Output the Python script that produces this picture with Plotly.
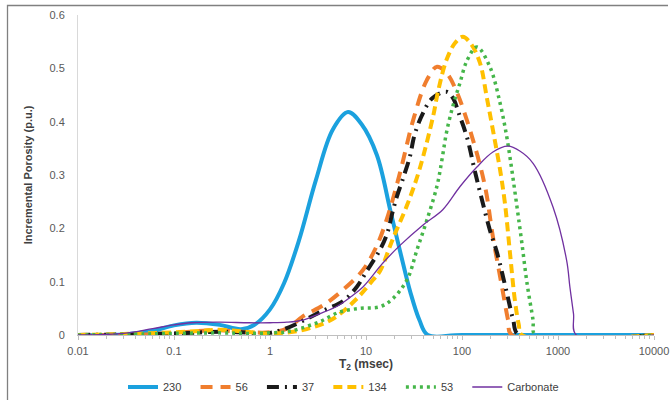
import plotly.graph_objects as go

# ---- data ----
t2_230 = [0.01, 0.03, 0.06, 0.1, 0.17, 0.3, 0.5, 0.7, 1.0, 1.4, 2.0, 3.0, 4.5, 6.5, 9.0, 13, 18, 23, 29, 36, 44, 100, 10000]
v_230 = [0, 0.001, 0.008, 0.018, 0.023, 0.019, 0.011, 0.02, 0.048, 0.097, 0.177, 0.29, 0.385, 0.418, 0.395, 0.337, 0.232, 0.152, 0.08, 0.028, 0, 0, 0]

t2_56 = [0.01, 0.05, 0.1, 0.2, 0.3, 0.5, 1.0, 1.5, 2.2, 3.6, 5.8, 9.3, 13, 17, 22.6, 31, 43, 55, 70, 89, 130, 174, 210, 261, 302, 330, 10000]
v_56 = [0, 0.001, 0.004, 0.008, 0.009, 0.006, 0.005, 0.012, 0.035, 0.056, 0.085, 0.122, 0.168, 0.225, 0.304, 0.403, 0.478, 0.503, 0.49, 0.454, 0.366, 0.278, 0.184, 0.09, 0.028, 0, 0]

t2_37 = [0.01, 0.1, 0.3, 0.5, 1.0, 1.5, 2.4, 3.5, 5.8, 8.0, 10.2, 14, 16.6, 19, 21, 25, 28.7, 32, 39, 49, 69, 80, 95, 113, 135, 154, 195, 232, 293, 340, 390, 10000]
v_37 = [0, 0.003, 0.006, 0.005, 0.004, 0.013, 0.03, 0.045, 0.064, 0.09, 0.12, 0.16, 0.19, 0.232, 0.26, 0.30, 0.335, 0.375, 0.415, 0.444, 0.456, 0.445, 0.41, 0.37, 0.31, 0.268, 0.197, 0.154, 0.079, 0.03, 0, 0]

t2_134 = [0.01, 0.03, 0.1, 0.2, 0.3, 0.5, 1.0, 1.6, 2.6, 4.5, 8, 11.8, 14, 19, 27, 36, 50, 56, 69, 85, 102, 125, 154, 181, 210, 249, 280, 316, 355, 390, 420, 10000]
v_134 = [0, 0.002, 0.005, 0.008, 0.01, 0.007, 0.003, 0.005, 0.013, 0.03, 0.068, 0.103, 0.12, 0.18, 0.245, 0.31, 0.41, 0.455, 0.516, 0.548, 0.559, 0.545, 0.51, 0.446, 0.384, 0.31, 0.247, 0.154, 0.066, 0.02, 0, 0]

t2_53 = [0.01, 0.05, 0.1, 0.3, 0.6, 1.0, 1.5, 2.05, 3.3, 5.3, 8.7, 14, 19, 27, 34, 43, 55, 62, 69, 80, 95, 113, 143, 195, 249, 293, 330, 374, 420, 475, 550, 580, 10000]
v_53 = [0, 0.002, 0.003, 0.004, 0.003, 0.004, 0.006, 0.012, 0.025, 0.043, 0.05, 0.053, 0.068, 0.105, 0.16, 0.215, 0.28, 0.33, 0.38, 0.428, 0.472, 0.515, 0.54, 0.503, 0.435, 0.371, 0.31, 0.24, 0.173, 0.098, 0.028, 0, 0]

t2_carb = [0.01, 0.03, 0.06, 0.1, 0.15, 0.3, 0.6, 1.0, 1.5, 2.2, 3.3, 5, 7, 9.3, 15, 22.6, 39, 63, 95, 143, 210, 300, 400, 550, 887, 1230, 1330, 1450, 1550, 10000]
v_carb = [0, 0.003, 0.012, 0.019, 0.023, 0.024, 0.023, 0.023, 0.024, 0.028, 0.04, 0.054, 0.072, 0.09, 0.135, 0.168, 0.206, 0.235, 0.278, 0.315, 0.343, 0.354, 0.345, 0.322, 0.24, 0.14, 0.09, 0.04, 0, 0]

series_names = ["230", "56", "37", "134", "53", "Carbonate"]

x_tick_vals = [0.01, 0.1, 1, 10, 100, 1000, 10000]
x_tick_text = ["0.01", "0.1", "1", "10", "100", "1000", "10000"]

series = [
    (t2_230, v_230, "#1BA1DE", 4, "solid"),
    (t2_56, v_56, "#F07E2E", 4, "12px,8px"),
    (t2_37, v_37, "#1A1A1A", 4, "12px,6px,2px,6px"),
    (t2_134, v_134, "#FFC000", 4, "9px,5px"),
    (t2_53, v_53, "#45B649", 3.5, "3px,4px"),
    (t2_carb, v_carb, "#7030A0", 1.3, "solid"),
]

FONT = "Liberation Sans, Arial, sans-serif"
PAD = "\u00a0" * 3

fig = go.Figure()
for name, (xs, ys, col, w, dash) in zip(series_names, series):
    fig.add_trace(go.Scatter(
        x=xs, y=ys, name=name + (PAD if name != "Carbonate" else ""), mode="lines",
        line=dict(color=col, width=w, dash=dash, shape="spline", smoothing=1.0),
    ))

L, R, T, B = 78, 17, 15, 65
W, H = 671, 400
pw, ph = W - L - R, H - T - B

def px2x(px):
    return (px - L) / pw

def py2y(py):
    return (H - B - py) / ph

frame_col = "#808080"
fig.add_shape(type="path", xref="paper", yref="paper",
              path="M {a},{b} L {a},{c} L {d},{c}".format(
                  a=px2x(7.5), b=py2y(420), c=py2y(5.5), d=px2x(668)),
              line=dict(color=frame_col, width=1.3), layer="above")

fig.update_layout(
    width=W, height=H,
    margin=dict(l=L, r=R, t=T, b=B, autoexpand=False),
    paper_bgcolor="white", plot_bgcolor="white",
    font=dict(family=FONT, size=11, color="#595959"),
    showlegend=True,
    legend=dict(
        orientation="h", xref="container", yref="container",
        x=123 / W, xanchor="left", y=1 - 387 / H, yanchor="middle",
        font=dict(size=11, color="#404040"),
        itemwidth=30,
        bgcolor="rgba(0,0,0,0)",
    ),
    xaxis=dict(
        type="log", range=[-2, 4],
        tickvals=x_tick_vals, ticktext=x_tick_text,
        showgrid=False, zeroline=False,
        showline=True, linecolor="#bfbfbf", linewidth=1,
        ticks="outside", ticklen=4, tickcolor="#bfbfbf",
        ticklabelstandoff=2,
        minor=dict(ticks="outside", ticklen=3, tickcolor="#bfbfbf", dtick="D1", showgrid=False),
        tickfont=dict(size=11, color="#595959"),
        title=dict(text="<b>T<sub>2</sub> (msec)</b>", font=dict(size=12, color="#404040"), standoff=12),
    ),
    yaxis=dict(
        range=[0, 0.6], dtick=0.1,
        showgrid=False, zeroline=False,
        showline=True, linecolor="#d9d9d9", linewidth=1,
        ticks="", ticklabelstandoff=10,
        tickfont=dict(size=11, color="#595959"),
        title=dict(text="<b>Incremental Porosity (p.u.)</b>", font=dict(size=11, color="#404040"), standoff=14),
    ),
)

fig.write_html("out.html", config={"displayModeBar": False},
               post_script="document.body.style.margin='0px';")
